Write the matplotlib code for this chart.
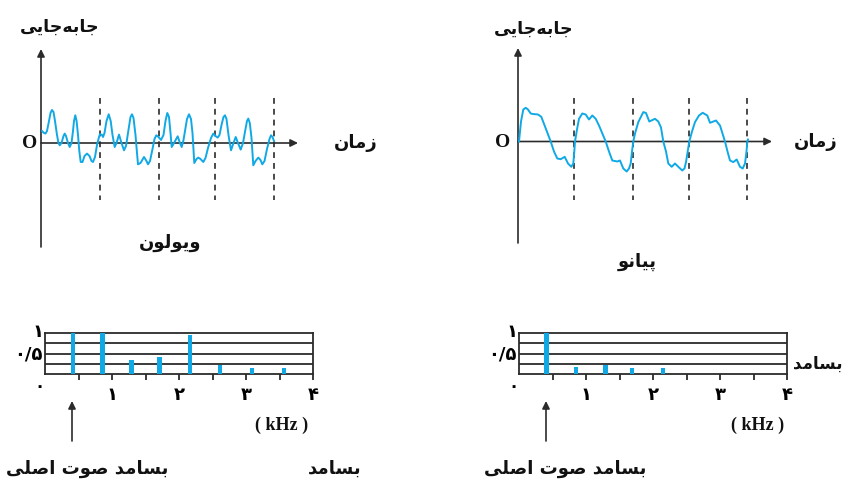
# -*- coding: utf-8 -*-
import matplotlib
matplotlib.use("Agg")
import matplotlib.pyplot as plt

# ================================================================
#   DADOS
# ================================================================
# violin waveform (time in px from origin, displacement in px)
t_violin = [1, 3, 4.5, 6, 8, 9.5, 11, 12.5, 14, 16, 17.5, 18.7, 20.5, 22.5, 23.7, 25,
            27, 28.7, 30.5, 32, 33, 34.3, 35.6, 37, 38.3, 39.7, 41.5, 43.5, 46, 48.5,
            50.5, 52, 54, 56, 58, 59, 61, 62, 63.5, 65.5, 67.7, 69.7, 71.5, 73.7, 75.5,
            78, 80.5, 83, 85, 87, 89.5, 91, 92.5, 94.5, 96, 97, 99.5, 103, 105.5, 107,
            109, 111.5, 113.5, 115.3, 117.5, 120, 122.5, 124.5, 126.3, 128, 129.5,
            130.7, 133, 136.7, 139, 140.7, 142.5, 144.5, 146, 148, 150, 151.5, 153.3,
            155.5, 157.3, 159.5, 162.3, 164.5, 167, 170, 172.3, 174.5, 176.7, 178.5,
            180.5, 182.5, 184, 185.5, 187.5, 190, 192.5, 194.7, 197, 199.7, 202, 204.5,
            206, 207.3, 208.8, 210.5, 212.3, 214.5, 217.3, 219.5, 221.3, 223.5, 226,
            228.5, 230, 231.5, 233]
d_violin = [12, 10, 9.5, 12, 22, 30, 33, 31, 22, 8, 0, -2.3, 0, 7, 9.4, 7,
            0, -4, 0, 12, 22, 27.7, 22, 8, -8, -19, -19, -13, -10.6, -13,
            -18, -19, -14, -2, 6, 9, 8, 6, 10, 22, 28.7, 22, 8, -4, 0,
            8.4, 0, -7.3, -3, 10, 26, 28.7, 25, 8, -10, -21.3, -20, -14, -18, -21.3,
            -18, -6, 4, 7.7, 6, 3, 8, 22, 30, 26, 10,
            -4, 0, 6.7, 0, -4, 3, 15, 24, 28.7, 24, 10, -20,
            -16, -14.6, -16, -19, -15, -5, 5, 9.4, 7, 5.4, 8,
            18, 26, 27.7, 24, 8, -7.3, 0, 6, 0, -6.6, 0, 14,
            22, 24.4, 20, 5, -22.3, -18, -14.6, -17, -21.3, -18, -6,
            4, 7.7, 6, 2]

# piano waveform
t_piano = [1, 3, 5.3, 7.7, 10, 12.7, 15, 20, 23.3, 27, 32.7, 36, 39.3, 42.7, 46.7,
           50, 53.3, 55.3, 56.3, 57, 59, 61, 64.3, 67.7, 71, 74.3, 77.7, 81, 87.7,
           91, 94.3, 99.3, 102, 105.3, 108.7, 111, 112.7, 114, 115.3, 117, 120.3,
           125.3, 128, 131.3, 137, 140.3, 143, 145.3, 148, 150.3, 153.7, 157, 160.3,
           164.3, 166.5, 168, 169.7, 171.3, 174, 177, 181, 184.7, 189.3, 192, 198,
           202, 204.5, 207, 209.5, 212, 215.3, 218.7, 222, 224.7, 227, 228.5, 229.3,
           230]
d_piano = [0, 20, 32, 33.7, 32, 28, 27.5, 27, 24.7, 15, 0, -10, -17, -17.7, -15.3,
           -22, -25.3, -22, -10, 0, 12, 22.7, 28, 27, 22, 26, 22.7, 16, 0,
           -10, -19, -20, -19, -27, -30, -27, -22, -10, 0, 8, 19.4,
           29.4, 28.5, 20, 22.7, 20, 14, 0, -10, -22, -25.3, -22, -25.3,
           -29, -27, -20.6, -10, 0, 10, 19.4, 26, 28.7, 26, 18.7, 21,
           16, 8, 0, -10, -19, -20.6, -18, -25.3, -27, -22, -10, 0,
           2]

# espectros (kHz, amplitude relativa)
f_violin = [0.415, 0.86, 1.29, 1.71, 2.16, 2.61, 3.09, 3.57]
a_violin = [1.0, 1.0, 0.33, 0.41, 0.94, 0.22, 0.14, 0.14]
f_piano = [0.41, 0.85, 1.29, 1.69, 2.15]
a_piano = [1.0, 0.16, 0.22, 0.14, 0.14]

x_ticks = [0.5, 1, 1.5, 2, 2.5, 3, 3.5, 4]
x_labels = {1: "۱", 2: "۲", 3: "۳", 4: "۴"}

TXT_Y = "جابه\u200cجایی"
TXT_T = "زمان"
TXT_F = "بسامد"
TXT_F0 = "بسامد صوت اصلی"
TXT_VIOLIN = "ویولون"
TXT_PIANO = "پیانو"

W, H = 846, 482
BLUE = "#10a9e6"
DARK = "#2b2b2b"

# ================================================================
#   SHAPING ARABE (matplotlib nao faz)
# ================================================================
FORMS = {
    "ا": ("\uFE8D", "\uFE8E", None, None),
    "ب": ("\uFE8F", "\uFE90", "\uFE91", "\uFE92"),
    "پ": ("\uFB56", "\uFB57", "\uFB58", "\uFB59"),
    "ت": ("\uFE95", "\uFE96", "\uFE97", "\uFE98"),
    "ج": ("\uFE9D", "\uFE9E", "\uFE9F", "\uFEA0"),
    "د": ("\uFEA9", "\uFEAA", None, None),
    "ز": ("\uFEAF", "\uFEB0", None, None),
    "س": ("\uFEB1", "\uFEB2", "\uFEB3", "\uFEB4"),
    "ص": ("\uFEB9", "\uFEBA", "\uFEBB", "\uFEBC"),
    "ل": ("\uFEDD", "\uFEDE", "\uFEDF", "\uFEE0"),
    "م": ("\uFEE1", "\uFEE2", "\uFEE3", "\uFEE4"),
    "ن": ("\uFEE5", "\uFEE6", "\uFEE7", "\uFEE8"),
    "ه": ("\uFEE9", "\uFEEA", "\uFEEB", "\uFEEC"),
    "و": ("\uFEED", "\uFEEE", None, None),
    "ی": ("\uFBFC", "\uFBFD", "\uFBFE", "\uFBFF"),
}


def shape(s):
    out = []
    for i, c in enumerate(s):
        if c not in FORMS:
            if c != "\u200c":
                out.append(c)
            continue
        prev = s[i - 1] if i > 0 else ""
        nxt = s[i + 1] if i + 1 < len(s) else ""
        pj = prev in FORMS and FORMS[prev][2] is not None
        nj = nxt in FORMS and FORMS[c][2] is not None
        iso, fin, ini, med = FORMS[c]
        if pj and nj:
            out.append(med)
        elif pj:
            out.append(fin)
        elif nj:
            out.append(ini)
        else:
            out.append(iso)
    return "".join(reversed(out))


def ftext(x, y, s, size=12, family="DejaVu Sans", **kw):
    fig.text(x / W, 1 - y / H, s, fontsize=size, family=family, fontweight="bold",
             ha="center", va="center", color="#111111", **kw)


def px_axes(x0, y0, x1, y1):
    return fig.add_axes([x0 / W, 1 - y1 / H, (x1 - x0) / W, (y1 - y0) / H])


# ================================================================
#   ONDA
# ================================================================
def wave_panel(x0, zero_y, t, d, dashes, x_tip, y_top, y_bot):
    ax = px_axes(x0, 45, x0 + 260, 250)
    ax.set_xlim(0, 260)
    ax.set_ylim(zero_y - 250, zero_y - 45)
    ax.axis("off")
    arrow = dict(arrowstyle="-|>", lw=1.2, color=DARK, mutation_scale=11,
                 shrinkA=0, shrinkB=0)
    ax.annotate("", xy=(0, zero_y - y_top), xytext=(0, zero_y - y_bot), arrowprops=arrow)
    ax.annotate("", xy=(x_tip - x0, 0), xytext=(0, 0), arrowprops=arrow)
    for xd in dashes:
        ax.plot([xd, xd], [zero_y - 98, zero_y - 200], ls=(0, (3.5, 3)), lw=1.2, color=DARK)
    ax.plot(t, d, color=BLUE, lw=1.4, zorder=3)
    return ax


# ================================================================
#   ESPECTRO
# ================================================================
def spec_panel(x0, freqs, amps):
    ax = px_axes(x0, 333, x0 + 268, 374)
    ax.set_xlim(0, 4)
    ax.set_ylim(0, 1)
    for sp in ax.spines.values():
        sp.set_linewidth(1.3)
        sp.set_color(DARK)
    for yl in [0.25, 0.5, 0.75]:
        ax.axhline(yl, color=DARK, lw=1.3, zorder=1)
    ax.bar(freqs, amps, width=0.065, color=BLUE, zorder=3)
    ax.set_xticks(x_ticks)
    ax.set_xticklabels([])
    ax.set_yticks([])
    ax.tick_params(axis="x", direction="out", length=4.5, width=1.3, color=DARK)
    for k, lab in x_labels.items():
        ax.text(k, -0.5, lab, fontsize=13, fontweight="bold", ha="center", va="center")
    ax.text(-0.09, -0.3, "۰", fontsize=12, fontweight="bold", ha="center", va="center")
    ax.text(-0.1, 1.02, "۱", fontsize=13, fontweight="bold", ha="center", va="center")
    ax.text(-0.25, 0.47, "۰/۵", fontsize=13, fontweight="bold", ha="center", va="center")
    return ax


fig = plt.figure(figsize=(W / 100, H / 100), dpi=100)

wave_panel(41, 143, t_violin, d_violin, [59, 118, 174, 233], 298, 49, 247)
wave_panel(518, 141.5, t_piano, d_piano, [56, 115, 171, 229], 772, 48, 243)

spec_panel(45, f_violin, a_violin)
spec_panel(519, f_piano, a_piano)

# textos
ftext(60, 27, shape(TXT_Y), 12.5)
ftext(534, 29, shape(TXT_Y), 12.5)
ftext(30, 143, "O", 14, family="Liberation Serif")
ftext(503, 142, "O", 14, family="Liberation Serif")
ftext(356, 143, shape(TXT_T), 13)
ftext(816, 142, shape(TXT_T), 13)
ftext(170, 243, shape(TXT_VIOLIN), 13)
ftext(637, 262, shape(TXT_PIANO), 13)
ftext(818, 364, shape(TXT_F), 12)
ftext(335, 469, shape(TXT_F), 13)
ftext(87, 469, shape(TXT_F0), 13)
ftext(565, 469, shape(TXT_F0), 13)
ftext(282, 425, "( kHz )", 13, family="Liberation Serif")
ftext(758, 425, "( kHz )", 13, family="Liberation Serif")

# setas do fundamental
arr = px_axes(0, 0, W, H)
arr.set_xlim(0, W)
arr.set_ylim(H, 0)
arr.axis("off")
for xa in [72, 546]:
    arr.annotate("", xy=(xa, 401), xytext=(xa, 441),
                 arrowprops=dict(arrowstyle="-|>", lw=1.2, color=DARK,
                                 mutation_scale=11, shrinkA=0, shrinkB=0))

fig.savefig("out.png", dpi=100)
